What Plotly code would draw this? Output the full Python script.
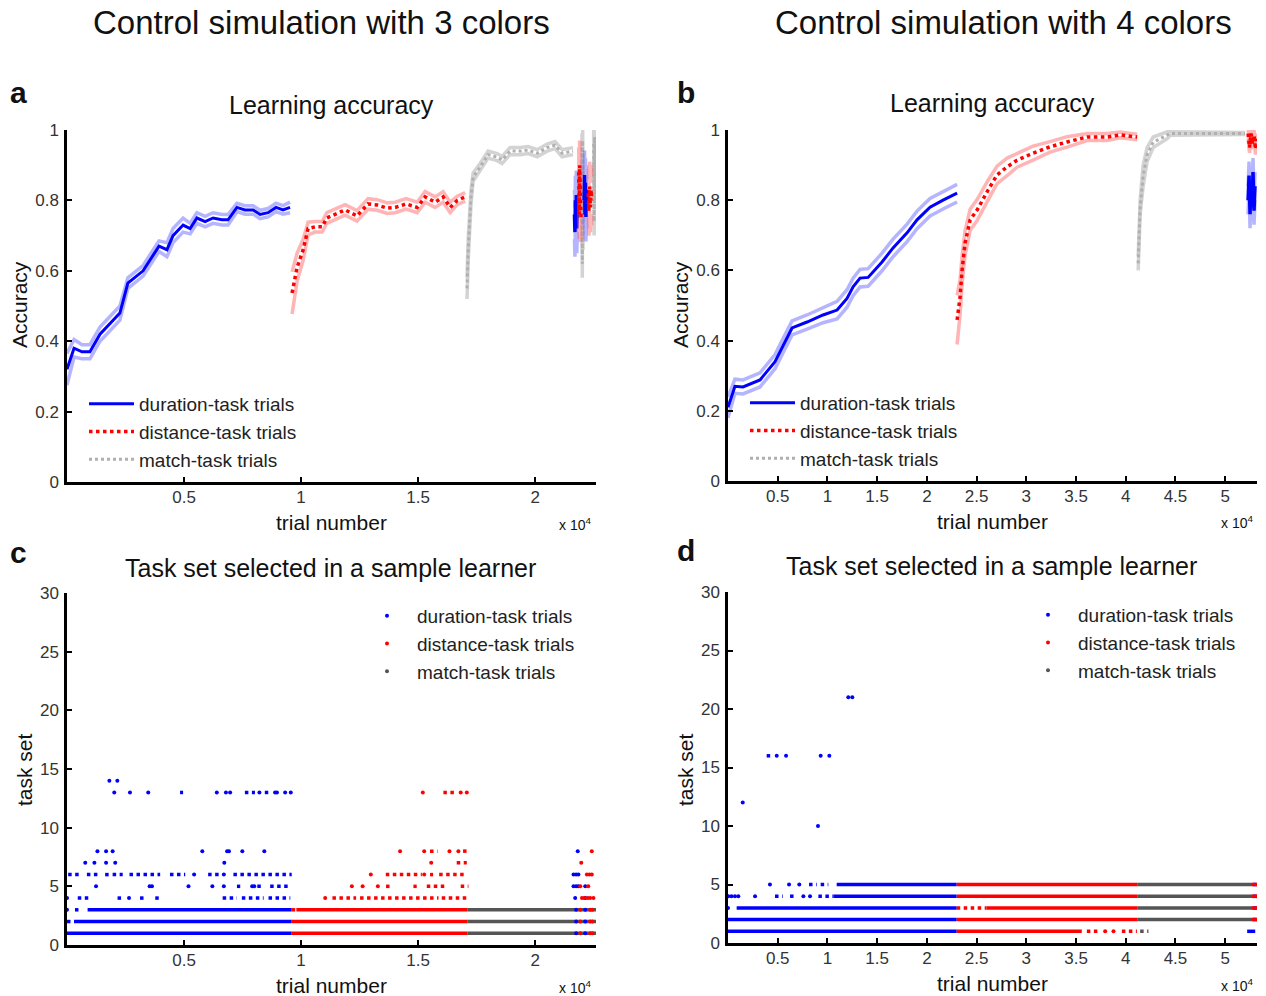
import plotly.graph_objects as go

# ---------------- DATA ----------------
# Panel a (3 colors) learning accuracy
a_dur_x = [0, 300, 640, 980, 1410, 2260, 2600, 3250, 3930, 4270, 4530, 4960, 5260, 5550, 5900, 6240, 6620, 6880, 7260, 7600, 7950, 8250, 8590, 8930, 9230, 9530]
a_dur_y = [0.32, 0.38, 0.37, 0.37, 0.42, 0.48, 0.565, 0.60, 0.67, 0.66, 0.70, 0.73, 0.72, 0.75, 0.74, 0.75, 0.745, 0.745, 0.78, 0.773, 0.773, 0.76, 0.765, 0.78, 0.773, 0.78]
a_dur_sem = [0.045, 0.025, 0.02, 0.02, 0.02, 0.02, 0.015, 0.015, 0.015, 0.02, 0.02, 0.02, 0.015, 0.015, 0.015, 0.015, 0.015, 0.015, 0.012, 0.012, 0.012, 0.012, 0.012, 0.012, 0.012, 0.015]

a_dist_x = [9615, 9830, 10090, 10300, 10600, 10900, 11100, 11450, 11880, 12390, 12860, 13250, 13680, 14020, 14490, 14960, 15300, 15730, 16070, 16370, 16670, 17010]
a_dist_y = [0.537, 0.61, 0.66, 0.72, 0.725, 0.725, 0.75, 0.76, 0.773, 0.756, 0.79, 0.787, 0.778, 0.78, 0.79, 0.78, 0.81, 0.795, 0.81, 0.78, 0.80, 0.81]
a_dist_sem = [0.06, 0.04, 0.03, 0.018, 0.015, 0.015, 0.015, 0.015, 0.015, 0.015, 0.015, 0.015, 0.015, 0.015, 0.015, 0.015, 0.015, 0.015, 0.015, 0.015, 0.012, 0.012]

a_match_x = [17090, 17140, 17260, 17350, 17650, 17990, 18380, 18590, 18930, 19360, 19700, 20090, 20510, 20850, 21150, 21620]
a_match_y = [0.55, 0.66, 0.81, 0.866, 0.895, 0.93, 0.923, 0.915, 0.94, 0.94, 0.943, 0.934, 0.95, 0.957, 0.934, 0.94]
a_match_sem = [0.03, 0.03, 0.02, 0.012, 0.01, 0.01, 0.01, 0.01, 0.01, 0.01, 0.01, 0.01, 0.01, 0.01, 0.01, 0.01]

# Final mixed block of panel a (None = gap)
a_end_dur_x = [21680, 21700, 21720, 21740, 21760, 21780, 21800, 21820, None, 22090, 22110, 22130, 22150, 22170, 22190, 22210]
a_end_dur_y = [0.76, 0.71, 0.80, 0.73, 0.815, 0.72, 0.78, 0.75, None, 0.80, 0.872, 0.76, 0.85, 0.753, 0.83, 0.79]
a_end_dur_sem = 0.07
a_end_dist_x = [21860, 21880, 21900, 21920, 21940, 21960, None, 22270, 22300, 22330, 22360, 22390, 22420]
a_end_dist_y = [0.88, 0.76, 0.90, 0.78, 0.85, 0.753, None, 0.82, 0.77, 0.84, 0.78, 0.83, 0.80]
a_end_dist_sem = 0.07
a_end_match_x = [22000, 22015, 22030, 22045, None, 22500, 22520, 22540, 22560]
a_end_match_y = [0.95, 0.62, 0.97, 0.70, None, 0.96, 0.74, 0.98, 0.80]
a_end_match_sem = 0.04

# Panel b (4 colors) learning accuracy
b_dur_x = [0, 700, 1510, 3220, 4730, 6440, 7950, 9560, 10970, 11970, 12580, 13280, 14090, 15490, 16600, 18010, 19010, 20320, 21630, 23040]
b_dur_y = [0.21, 0.27, 0.268, 0.288, 0.34, 0.436, 0.453, 0.473, 0.487, 0.52, 0.553, 0.578, 0.58, 0.624, 0.664, 0.707, 0.744, 0.78, 0.80, 0.82]
b_dur_sem = [0.03, 0.02, 0.02, 0.02, 0.02, 0.02, 0.02, 0.022, 0.025, 0.025, 0.025, 0.025, 0.025, 0.025, 0.025, 0.025, 0.025, 0.025, 0.025, 0.025]

b_dist_x = [23040, 23340, 23540, 23840, 24350, 25050, 26160, 27060, 28070, 29070, 30680, 32390, 34100, 36120, 38130, 39440, 41150]
b_dist_y = [0.459, 0.524, 0.60, 0.678, 0.744, 0.772, 0.829, 0.872, 0.895, 0.914, 0.934, 0.952, 0.966, 0.98, 0.98, 0.986, 0.98]
b_dist_sem = [0.07, 0.05, 0.04, 0.035, 0.03, 0.03, 0.028, 0.025, 0.025, 0.02, 0.02, 0.015, 0.015, 0.01, 0.01, 0.008, 0.008]

b_match_x = [41250, 41450, 41750, 42150, 42760, 44170, 44470, 48000, 52000]
b_match_y = [0.62, 0.78, 0.87, 0.93, 0.965, 0.985, 0.99, 0.99, 0.99]
b_match_sem = [0.02, 0.02, 0.03, 0.02, 0.015, 0.01, 0.005, 0.003, 0.003]

b_end_dur_x = [52300, 52400, 52500, 52600, 52700, 52800, 52900, 53000]
b_end_dur_y = [0.80, 0.87, 0.76, 0.85, 0.78, 0.88, 0.77, 0.84]
b_end_dur_sem = 0.04
b_end_dist_x = [52300, 52450, 52600, 52750, 52900, 53050, 53150]
b_end_dist_y = [0.99, 0.95, 0.99, 0.96, 0.985, 0.945, 0.975]
b_end_dist_sem = 0.015

# Panel c (3 colors) task set selected: dense rows (row, start, end), dotted clusters, single points
c_dur_dense = [(1, 0, 9600), (2, 300, 9600), (3, 880, 9600)]
c_dur_dotted = [(2, 0, 160), (3, 340, 530), (4, 460, 1020), (4, 2160, 2380), (4, 3120, 3410), (4, 3770, 3950),
                (4, 6650, 7260), (4, 7470, 8400), (4, 8610, 9540), (5, 7260, 7400), (5, 8130, 8430), (5, 8680, 9540),
                (6, 50, 640), (6, 850, 1410), (6, 1630, 1840), (6, 1950, 2380), (6, 2670, 3980), (6, 4400, 5050),
                (6, 6030, 6530), (6, 7110, 9600), (13, 7600, 8030), (13, 8450, 8640), (13, 4830, 4960)]
c_dur_pts_x = [1810, 2150, 2020, 2690, 3470, 6400, 6790, 6970, 8220, 8890, 8970, 9320, 9560,
               1300, 1670, 1950, 5780, 6840, 6920, 7490, 8430, 780, 1170, 1670, 2060, 6720,
               1240, 3530, 3630, 5190, 6210, 6700, 7910, 8000, 0, 2650, 0, 5430, 6700,
               21820, 21640, 21750, 21850, 21640, 21750, 21850, 22140, 21710, 22140,
               21750, 21750, 21750, 22140, 22140, 22140]
c_dur_pts_y = [14, 14, 13, 13, 13, 13, 13, 13, 13, 13, 13, 13, 13,
               8, 8, 8, 8, 8, 8, 8, 8, 7, 7, 7, 7, 7,
               5, 5, 5, 5, 5, 5, 5, 5, 4, 4, 3, 6, 6,
               8, 6, 6, 6, 5, 5, 5, 5, 4, 4,
               1, 2, 3, 1, 2, 3]

c_dist_dense = [(1, 9600, 17100), (2, 9600, 17100), (3, 9800, 17100)]
c_dist_dotted = [(3, 9600, 9800), (4, 11340, 12350), (4, 12520, 15870), (4, 16010, 17150),
                 (5, 13630, 13880), (5, 14800, 14940), (5, 15370, 16230), (5, 16820, 17150),
                 (6, 13620, 15160), (6, 15510, 15640), (6, 15900, 17080), (7, 16650, 17080),
                 (8, 15510, 15830), (8, 16920, 17140), (13, 16080, 16650)]
c_dist_pts_x = [11030, 12170, 12630, 13280, 12980, 15260, 15560, 14230, 15260, 16340, 16720, 15200, 16820, 17080,
                22420, 21970, 22210, 22320, 22420, 21930, 22270, 22000, 22100, 22250, 22350, 22490,
                21930, 21930, 21930, 22350, 22350, 22350, 22450, 22450, 22450]
c_dist_pts_y = [4, 5, 5, 5, 6, 6, 7, 8, 8, 8, 8, 13, 13, 13,
                8, 7, 6, 6, 6, 5, 5, 4, 4, 4, 4, 4,
                1, 2, 3, 1, 2, 3, 1, 2, 3]

c_match_dense = [(1, 17100, 22600), (2, 17100, 22600), (3, 17100, 22600)]

# Panel d (4 colors)
d_dur_dense = [(1, 0, 23000), (2, 0, 23000), (3, 870, 23000), (4, 10600, 23000), (5, 10930, 23000), (1, 52210, 53020)]
d_dur_dotted = [(4, 4730, 5500), (4, 6240, 6910), (4, 9090, 10600), (5, 8150, 8920), (5, 9320, 10090), (16, 3890, 4290)]
d_dur_pts_x = [12100, 12500, 4900, 5840, 9320, 10190, 1480, 9050, 4220, 6140, 7170,
               30, 350, 700, 1040, 2720, 7580, 8250, 0, 52950, 52950, 52950, 52950]
d_dur_pts_y = [21, 21, 16, 16, 16, 16, 12, 10, 5, 5, 5,
               4, 4, 4, 4, 4, 4, 4, 3, 2, 3, 4, 5]

d_dist_dense = [(2, 23000, 41150), (4, 23000, 41150), (5, 23000, 41150), (3, 26000, 41150), (1, 23000, 35580)]
d_dist_dotted = [(3, 23000, 26000), (1, 36090, 37420), (1, 39610, 41120)]
d_dist_pts_x = [37930, 38770, 52800, 52800, 52800, 52800, 53100, 53100, 53100, 53100]
d_dist_pts_y = [1, 1, 2, 3, 4, 5, 2, 3, 4, 5]

d_match_dense = [(2, 41150, 52690), (3, 41150, 52690), (4, 41150, 52690), (5, 41150, 52690)]
d_match_dotted = [(1, 41450, 42280)]

# Tick labels
acc_ticks = [0, 0.2, 0.4, 0.6, 0.8, 1]
acc_ticktext = ["0", "0.2", "0.4", "0.6", "0.8", "1"]
a_xticks = [5000, 10000, 15000, 20000]
a_xticktext = ["0.5", "1", "1.5", "2"]
b_xticks = [5000, 10000, 15000, 20000, 25000, 30000, 35000, 40000, 45000, 50000]
b_xticktext = ["0.5", "1", "1.5", "2", "2.5", "3", "3.5", "4", "4.5", "5"]
ts_ticks = [0, 5, 10, 15, 20, 25, 30]
a_xmax = 22600
b_xmax = 53200

# ---------------- STYLE ----------------
FONT = "Liberation Sans, Arial, Helvetica, sans-serif"
BLUE = "#0000ff"
RED = "#ff0000"
LBLUE = "rgba(90,90,255,0.45)"
LRED = "rgba(255,90,90,0.45)"
LGRAY = "rgba(200,200,200,0.8)"
MGRAY = "#b0b0b0"
DGRAY = "#555555"

fig = go.Figure()


def add_curve(xs, ys, sems, ax, color, lcolor, dash, width, name, legend, showlegend):
    if isinstance(sems, (int, float)):
        sems = [sems] * len(xs)
    up = [None if y is None else y + s for y, s in zip(ys, sems)]
    lo = [None if y is None else y - s for y, s in zip(ys, sems)]
    xa, ya = ax
    for band in (up, lo):
        fig.add_trace(go.Scatter(x=xs, y=band, mode="lines", line=dict(color=lcolor, width=3.5),
                                 xaxis=xa, yaxis=ya, showlegend=False, hoverinfo="skip"))
    fig.add_trace(go.Scatter(x=xs, y=ys, mode="lines", line=dict(color=color, width=width, dash=dash),
                             xaxis=xa, yaxis=ya, name=name, legend=legend, showlegend=showlegend))


def seg_xy(segs):
    xs, ys = [], []
    for r, x0, x1 in segs:
        xs += [x0, x1, None]
        ys += [r, r, None]
    return xs, ys


def add_rows(segs, ax, color, dash):
    xs, ys = seg_xy(segs)
    fig.add_trace(go.Scatter(x=xs, y=ys, mode="lines", line=dict(color=color, width=3.5, dash=dash),
                             xaxis=ax[0], yaxis=ax[1], showlegend=False, hoverinfo="skip"))


def add_pts(xs, ys, ax, color, name, legend, showlegend=True):
    fig.add_trace(go.Scatter(x=xs, y=ys, mode="markers", marker=dict(color=color, size=4, line=dict(width=0)),
                             xaxis=ax[0], yaxis=ax[1], name=name, legend=legend, showlegend=showlegend))


names = ["duration-task trials", "distance-task trials", "match-task trials"]

# Panel a
A = ("x", "y")
add_curve(a_dur_x, a_dur_y, a_dur_sem, A, BLUE, LBLUE, "solid", 3, names[0], "legend", True)
add_curve(a_dist_x, a_dist_y, a_dist_sem, A, RED, LRED, "dot", 3.5, names[1], "legend", True)
add_curve(a_match_x, a_match_y, a_match_sem, A, MGRAY, LGRAY, "dot", 3, names[2], "legend", True)
add_curve(a_end_match_x, a_end_match_y, a_end_match_sem, A, MGRAY, LGRAY, "dot", 3, names[2], "legend", False)
add_curve(a_end_dur_x, a_end_dur_y, a_end_dur_sem, A, BLUE, LBLUE, "solid", 3.5, names[0], "legend", False)
add_curve(a_end_dist_x, a_end_dist_y, a_end_dist_sem, A, RED, LRED, "dot", 3.5, names[1], "legend", False)

# Panel b
B = ("x2", "y2")
add_curve(b_dur_x, b_dur_y, b_dur_sem, B, BLUE, LBLUE, "solid", 3, names[0], "legend2", True)
add_curve(b_dist_x, b_dist_y, b_dist_sem, B, RED, LRED, "dot", 3.5, names[1], "legend2", True)
add_curve(b_match_x, b_match_y, b_match_sem, B, MGRAY, LGRAY, "dot", 3, names[2], "legend2", True)
add_curve(b_end_dur_x, b_end_dur_y, b_end_dur_sem, B, BLUE, LBLUE, "solid", 3.5, names[0], "legend2", False)
add_curve(b_end_dist_x, b_end_dist_y, b_end_dist_sem, B, RED, LRED, "dot", 3.5, names[1], "legend2", False)

# Panel c
C = ("x3", "y3")
add_rows(c_match_dense, C, DGRAY, "solid")
add_rows(c_dur_dense, C, BLUE, "solid")
add_rows(c_dur_dotted, C, BLUE, "dot")
add_rows(c_dist_dense, C, RED, "solid")
add_rows(c_dist_dotted, C, RED, "dot")
add_pts(c_dur_pts_x, c_dur_pts_y, C, BLUE, names[0], "legend3")
add_pts(c_dist_pts_x, c_dist_pts_y, C, RED, names[1], "legend3")
add_pts([None], [None], C, DGRAY, names[2], "legend3")

# Panel d
D = ("x4", "y4")
add_rows(d_match_dense, D, DGRAY, "solid")
add_rows(d_match_dotted, D, DGRAY, "dot")
add_rows(d_dur_dense, D, BLUE, "solid")
add_rows(d_dur_dotted, D, BLUE, "dot")
add_rows(d_dist_dense, D, RED, "solid")
add_rows(d_dist_dotted, D, RED, "dot")
add_pts(d_dur_pts_x, d_dur_pts_y, D, BLUE, names[0], "legend4")
add_pts(d_dist_pts_x, d_dist_pts_y, D, RED, names[1], "legend4")
add_pts([None], [None], D, DGRAY, names[2], "legend4")

W, H = 1266, 996


def px(x):
    return x / W


def py(y):
    return 1 - y / H


axis_common = dict(showline=True, linewidth=2.5, linecolor="black", ticks="inside", ticklen=5,
                   tickwidth=2, tickcolor="black", showgrid=False, zeroline=False,
                   automargin=False,
                   tickfont=dict(family=FONT, size=17, color="#333333"), fixedrange=True)
xax = dict(ticklabelstandoff=-2, **axis_common)
yax = dict(ticklabelstandoff=2, **axis_common)

layout = dict(
    template="none",
    width=W, height=H, margin=dict(l=0, r=0, t=0, b=0, autoexpand=False), paper_bgcolor="white", plot_bgcolor="white",
    font=dict(family=FONT, color="#222222"), showlegend=True,
    xaxis=dict(domain=[px(67), px(596)], range=[0, a_xmax], tickvals=a_xticks, ticktext=a_xticktext, anchor="y", **xax),
    yaxis=dict(domain=[py(482), py(130)], range=[0, 1], tickvals=acc_ticks, ticktext=acc_ticktext, anchor="x", **yax),
    xaxis2=dict(domain=[px(728), px(1257)], range=[0, b_xmax], tickvals=b_xticks, ticktext=b_xticktext, anchor="y2", **xax),
    yaxis2=dict(domain=[py(481), py(130)], range=[0, 1], tickvals=acc_ticks, ticktext=acc_ticktext, anchor="x2", **yax),
    xaxis3=dict(domain=[px(67), px(596)], range=[0, a_xmax], tickvals=a_xticks, ticktext=a_xticktext, anchor="y3", **xax),
    yaxis3=dict(domain=[py(945), py(593)], range=[0, 30], tickvals=ts_ticks, anchor="x3", **yax),
    xaxis4=dict(domain=[px(728), px(1257)], range=[0, b_xmax], tickvals=b_xticks, ticktext=b_xticktext, anchor="y4", **xax),
    yaxis4=dict(domain=[py(943), py(592)], range=[0, 30], tickvals=ts_ticks, anchor="x4", **yax),
)

leg_common = dict(bgcolor="rgba(0,0,0,0)", borderwidth=0, font=dict(family=FONT, size=19, color="#222222"),
                  tracegroupgap=0, xanchor="left", yanchor="top")
layout["legend"] = dict(x=px(84), y=py(385), itemwidth=45, **leg_common)
layout["legend2"] = dict(x=px(745), y=py(384), itemwidth=45, **leg_common)
layout["legend3"] = dict(x=px(357), y=py(597), itemwidth=50, **leg_common)
layout["legend4"] = dict(x=px(1018), y=py(596), itemwidth=50, **leg_common)

fig.update_layout(**layout)

ann = []


def text(x, y, s, size, bold=False, angle=0, xanchor="center"):
    ann.append(dict(x=px(x), y=py(y), xref="paper", yref="paper", text=("<b>%s</b>" % s) if bold else s,
                    showarrow=False, xanchor=xanchor, yanchor="middle", textangle=angle,
                    font=dict(family=FONT, size=size, color="#111111")))


text(321, 22, "Control simulation with 3 colors", 33)
text(1003, 22, "Control simulation with 4 colors", 33)
text(331, 105, "Learning accuracy", 25)
text(992, 103, "Learning accuracy", 25)
text(330, 568, "Task set selected in a sample learner", 25)
text(991, 566, "Task set selected in a sample learner", 25)
text(18, 92, "a", 30, bold=True)
text(686, 92, "b", 30, bold=True)
text(18, 552, "c", 30, bold=True)
text(686, 550, "d", 30, bold=True)
text(19, 305, "Accuracy", 21, angle=-90)
text(680, 305, "Accuracy", 21, angle=-90)
text(24, 770, "task set", 21, angle=-90)
text(685, 770, "task set", 21, angle=-90)
text(331, 522, "trial number", 21)
text(992, 521, "trial number", 21)
text(331, 985, "trial number", 21)
text(992, 983, "trial number", 21)
for (x, y) in [(575, 524), (1237, 522), (575, 987), (1237, 985)]:
    text(x, y, "x 10<sup>4</sup>", 14)

fig.update_layout(annotations=ann)

post = ("document.documentElement.style.margin='0';document.body.style.margin='0';"
        "document.documentElement.style.overflow='hidden';document.body.style.overflow='hidden';"
        "var d=document.getElementById('{plot_id}');d.style.position='fixed';d.style.top='0px';d.style.left='0px';")
fig.write_html("out.html", config={"displayModeBar": False}, post_script=post)
